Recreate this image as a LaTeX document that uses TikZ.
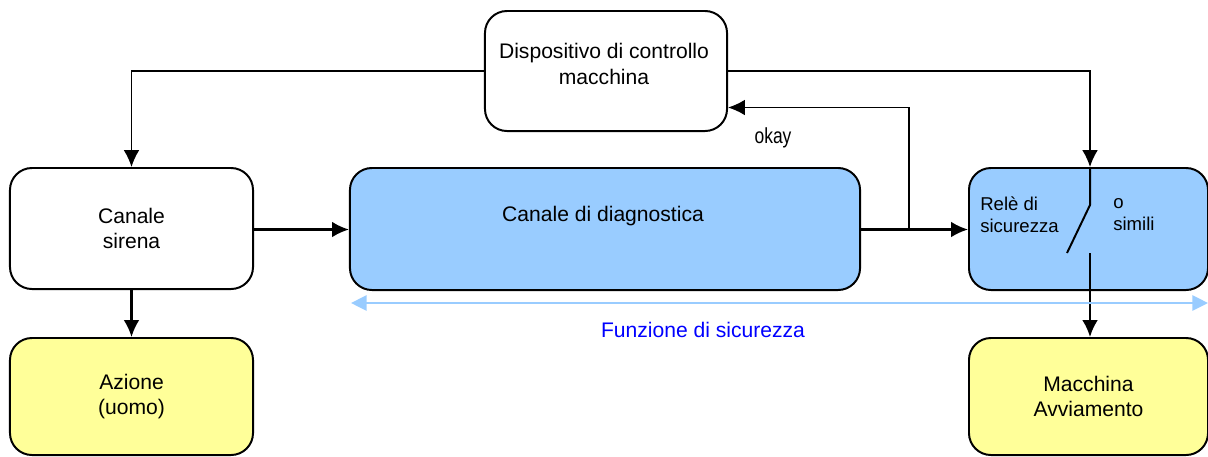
\documentclass[tikz,border=0pt]{standalone}
\usepackage{fontspec}
\setmainfont{Liberation Sans}
\newfontfamily\narrowfont[FakeStretch=0.8]{Liberation Sans}
\usetikzlibrary{arrows.meta,calc}
\definecolor{paleblue}{HTML}{99CCFF}
\definecolor{paleyellow}{HTML}{FFFF99}
\definecolor{textblue}{HTML}{0000FF}
\tikzset{
  box/.style={draw=black, line width=1.4pt, rounded corners=0.55cm, align=center, inner sep=0pt, font=\fontsize{15}{17.5}\selectfont},
  bluebox/.style={box, fill=paleblue},
  yellowbox/.style={box, fill=paleyellow},
  txt/.style={align=center, inner sep=0pt, font=\fontsize{15}{18.5}\selectfont},
  smalltxt/.style={align=left, inner sep=0pt, font=\fontsize{13.2}{15.6}\selectfont},
  arrow/.style={-{Latex[length=4.2mm,width=3.9mm]}, line width=1.6pt},
  thinarrow/.style={-{Latex[length=4.2mm,width=3.9mm]}, line width=1.1pt},
  bluearrow/.style={{Triangle[length=3.9mm,width=3.8mm]}-{Triangle[length=3.9mm,width=3.8mm]}, draw=paleblue, line width=1.5pt}
}
\begin{document}
\begin{tikzpicture}[x=0.025cm,y=-0.025cm]
\useasboundingbox (0,0) rectangle (1208,456);
\node[box, minimum width=6.05cm, minimum height=3cm] (dev) at (606,71) {};
\node[txt] (devtxt) at (604,64) {Dispositivo di controllo\\macchina};
\node[box, minimum width=6.075cm, minimum height=3.025cm] (siren) at (131.5,228.5) {Canale\\sirena};
\node[bluebox, minimum width=12.75cm, minimum height=3.05cm] (diag) at (605,229) {};
\node[txt] (diagtxt) at (603,216) {Canale di diagnostica};
\node[bluebox, minimum width=5.975cm, minimum height=3.05cm] (relay) at (1088.5,229) {};
\node[smalltxt, anchor=west] (relaytxt) at (980,215) {Relè di\\sicurezza};
\node[smalltxt, anchor=west] (simtxt) at (1113,215) {o\\simili};
\node[yellowbox, minimum width=6.075cm, minimum height=2.925cm] (action) at (131.5,396.5) {Azione\\(uomo)};
\node[yellowbox, minimum width=5.975cm, minimum height=2.925cm] (machine) at (1088.5,396.5) {Macchina\\Avviamento};
\node[font=\narrowfont\fontsize{15.5}{18}\selectfont, inner sep=0pt] (okay) at (773,138) {okay};
\node[font=\fontsize{15}{18}\selectfont, text=textblue, inner sep=0pt] (safety) at (703,330) {Funzione di sicurezza};
% switch inside the relay
\coordinate (swtop) at (1090,205);
\coordinate (swend) at (1067,253);
\coordinate (swlow) at (1090,253);
\coordinate (okj) at (909,229.5);
\coordinate (fnL) at (351,303);
\coordinate (fnR) at (1208,303);
\draw[thinarrow] (dev.west) -| (siren.north);
\draw[thinarrow] (dev.east) -| (relay.north -| swtop);
\draw[line width=1.4pt] (relay.north -| swtop) -- (swtop) -- (swend);
\draw[arrow] (swlow) -- (machine.north -| swlow);
\draw[arrow] (siren.east |- okj) -- (diag.west |- okj);
\draw[arrow] (diag.east |- okj) -- (relay.west |- okj);
\draw[thinarrow] (okj) |- ($(dev.east)+(0,36.5)$);
\draw[arrow] (siren.south) -- (action.north);
\draw[bluearrow] (fnL) -- (fnR);
\end{tikzpicture}
\end{document}
